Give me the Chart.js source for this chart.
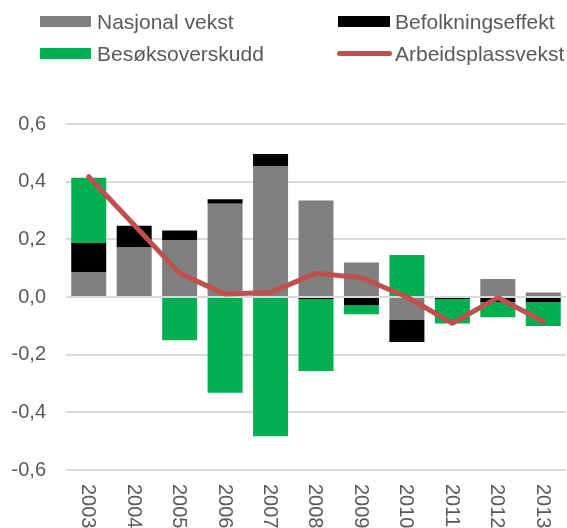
<!DOCTYPE html>
<html>
<head>
<meta charset="utf-8">
<script src="https://cdn.jsdelivr.net/npm/chart.js@4"></script>
<style>
  html, body { margin: 0; padding: 0; background: #fff; }
  #wrap { position: relative; width: 567px; height: 528px; overflow: hidden; }
  canvas { position: absolute; left: 0; top: 0; }
  .lg { position: absolute; font-family: "Liberation Sans", Arial, sans-serif; font-size: 21px; color: #595959; white-space: nowrap; line-height: 22px; }
  .sw { position: absolute; }
</style>
</head>
<body>
<div id="wrap">
  <canvas id="c" width="567" height="528"></canvas>
  <div class="sw" style="left:40px;top:16px;width:51px;height:11px;background:#808080"></div>
  <div class="lg" style="left:97px;top:11px">Nasjonal vekst</div>
  <div class="sw" style="left:338px;top:16px;width:52px;height:11px;background:#000000"></div>
  <div class="lg" style="left:395px;top:11px">Befolkningseffekt</div>
  <div class="sw" style="left:40px;top:48px;width:51px;height:11px;background:#00b050"></div>
  <div class="lg" style="left:97px;top:43px">Besøksoverskudd</div>
  <div class="sw" style="left:337px;top:51px;width:55px;height:5px;border-radius:3px;background:#c0504d"></div>
  <div class="lg" style="left:395px;top:43px">Arbeidsplassvekst</div>
</div>
<script>
const years = ["2003","2004","2005","2006","2007","2008","2009","2010","2011","2012","2013"];
const nasjonalVekst = [0.087, 0.172, 0.198, 0.323, 0.454, 0.335, 0.120, -0.080, 0.000, 0.062, 0.016];
const befolkningseffekt = [0.100, 0.075, 0.033, 0.016, 0.042, -0.007, -0.029, -0.076, -0.007, -0.018, -0.018];
const besoksoverskudd = [0.227, 0.000, -0.150, -0.332, -0.483, -0.250, -0.031, 0.146, -0.085, -0.052, -0.083];
const arbeidsplassvekst = [0.417, 0.250, 0.082, 0.010, 0.016, 0.082, 0.067, 0.000, -0.091, -0.002, -0.085];
const yTicks = [-0.6, -0.4, -0.2, 0.0, 0.2, 0.4, 0.6];

const FONT = '"Liberation Sans", Arial, sans-serif';
const TEXT = '#595959';

const xLabelsPlugin = {
  id: 'xLabels',
  afterDraw(chart) {
    const ctx = chart.ctx;
    const xs = chart.scales.x;
    ctx.save();
    ctx.font = '20px ' + FONT;
    ctx.fillStyle = TEXT;
    ctx.textAlign = 'left';
    ctx.textBaseline = 'middle';
    years.forEach((lab, i) => {
      const x = xs.getPixelForTick(i);
      ctx.save();
      ctx.translate(x - 1, 484);
      ctx.rotate(Math.PI / 2);
      ctx.fillText(lab, 0, 0);
      ctx.restore();
    });
    ctx.restore();
  }
};

new Chart(document.getElementById('c'), {
  data: {
    labels: years,
    datasets: [
      { type: 'line', label: 'Arbeidsplassvekst', data: arbeidsplassvekst, borderColor: '#c0504d', borderWidth: 5,
        pointRadius: 0, borderCapStyle: 'round', borderJoinStyle: 'round', tension: 0, order: 0, fill: false },
      { type: 'bar', label: 'Nasjonal vekst', data: nasjonalVekst, backgroundColor: '#808080', stack: 's', order: 1 },
      { type: 'bar', label: 'Befolkningseffekt', data: befolkningseffekt, backgroundColor: '#000000', stack: 's', order: 1 },
      { type: 'bar', label: 'Besøksoverskudd', data: besoksoverskudd, backgroundColor: '#00b050', stack: 's', order: 1 }
    ]
  },
  options: {
    responsive: false,
    animation: false,
    devicePixelRatio: 1,
    layout: { padding: { top: 124, right: 1, left: 0, bottom: 0 } },
    datasets: { bar: { barPercentage: 0.77, categoryPercentage: 1 } },
    plugins: { legend: { display: false }, tooltip: { enabled: false } },
    scales: {
      x: {
        stacked: true,
        grid: { display: false },
        border: { display: false },
        ticks: { display: false },
        afterFit(s) { s.height = 58; }
      },
      y: {
        stacked: true,
        min: -0.6, max: 0.6,
        afterBuildTicks(s) { s.ticks = yTicks.map(v => ({ value: v })); },
        grid: { color: '#d9d9d9', lineWidth: 2, drawTicks: false },
        border: { display: false },
        ticks: {
          padding: 20,
          color: TEXT,
          font: { family: FONT, size: 20 },
          callback: v => (Math.abs(v) < 1e-9 ? 0 : v).toFixed(1).replace('.', ',')
        },
        afterFit(s) { s.width = 66; }
      }
    }
  },
  plugins: [xLabelsPlugin]
});
</script>
</body>
</html>
